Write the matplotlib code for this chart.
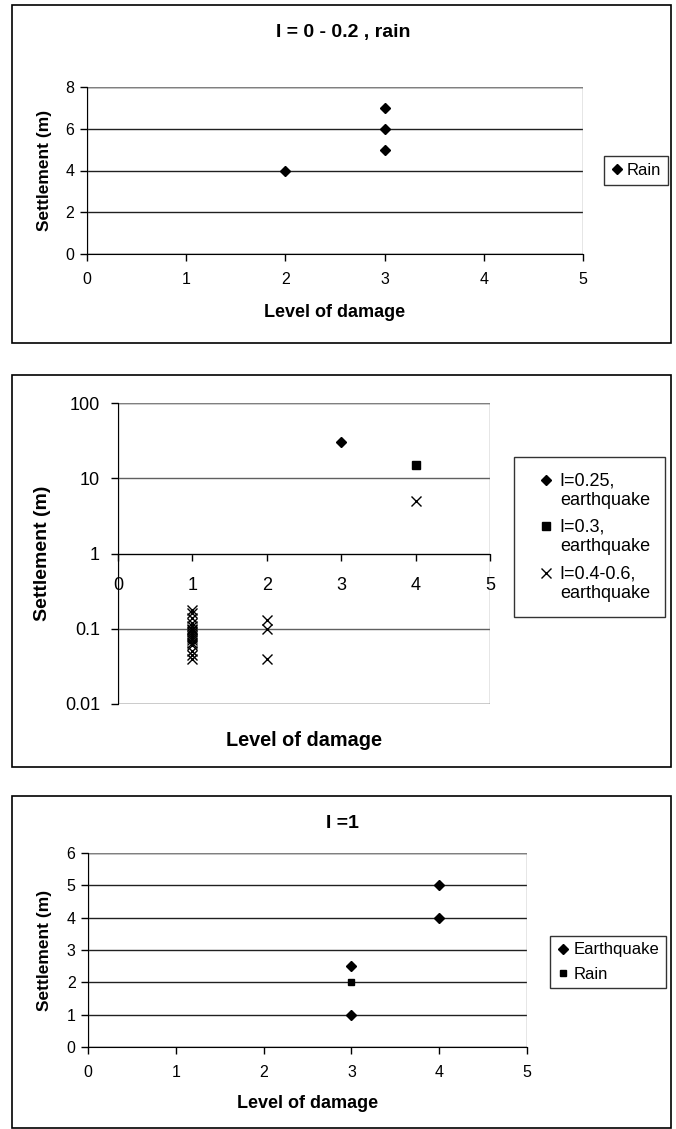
import matplotlib
matplotlib.use("Agg")
import matplotlib.pyplot as plt
from matplotlib.patches import Rectangle
from matplotlib.legend_handler import HandlerLine2D
from matplotlib.ticker import FixedLocator, FixedFormatter, NullLocator

plt.rcParams["font.family"] = ["Liberation Sans", "DejaVu Sans"]

W, H = 676, 1129

# --- data ---
# panel 1: I = 0 - 0.2, rain
p1_rain_x = [2, 3, 3, 3]
p1_rain_y = [4, 5, 6, 7]

# panel 2: earthquake, log scale
p2_i025_x = [3]
p2_i025_y = [30]
p2_i03_x = [4]
p2_i03_y = [15]
p2_i0406_x = [4, 1, 1, 1, 1, 1, 1, 1, 1, 1, 1, 1, 1, 1, 1, 1, 1, 1, 2, 2, 2]
p2_i0406_y = [5, 0.04, 0.045, 0.05, 0.06, 0.065, 0.07, 0.075, 0.08, 0.085, 0.09,
              0.095, 0.1, 0.11, 0.12, 0.14, 0.16, 0.18, 0.04, 0.1, 0.13]
p2_yticks = [0.01, 0.1, 1, 10, 100]
p2_ylabels = ["0.01", "0.1", "1", "10", "100"]

# panel 3: I = 1
p3_eq_x = [3, 3, 4, 4]
p3_eq_y = [1, 2.5, 4, 5]
p3_rain_x = [3]
p3_rain_y = [2]

fig = plt.figure(figsize=(W / 100, H / 100), dpi=100)


def box(x0, y0, x1, y1):
    """axes position from pixel coords (top-left origin)"""
    return [x0 / W, 1 - y1 / H, (x1 - x0) / W, (y1 - y0) / H]


def frame(x0, y0, x1, y1):
    fig.patches.append(Rectangle((x0 / W, 1 - y1 / H), (x1 - x0) / W, (y1 - y0) / H,
                                 transform=fig.transFigure, fill=False,
                                 edgecolor="black", lw=1.2))


def style(ax, grid_color="#202020", fs=11.5):
    for s in ("top", "right"):
        ax.spines[s].set_visible(False)
    ax.spines["left"].set_color("black")
    ax.spines["bottom"].set_color("black")
    ax.add_patch(Rectangle((0, 0), 1, 1, transform=ax.transAxes, fill=False,
                           edgecolor="#808080", lw=1, zorder=1))
    ax.tick_params(direction="out", length=5, width=1, labelsize=fs, pad=4)
    ax.tick_params(axis="x", pad=8)
    ax.grid(axis="y", color=grid_color, lw=1)
    ax.set_axisbelow(True)


class TopMarker(HandlerLine2D):
    # put the marker next to the first line of a two-line label
    def create_artists(self, legend, orig_handle, xdescent, ydescent, width,
                       height, fontsize, trans):
        arts = super().create_artists(legend, orig_handle, xdescent, ydescent,
                                      width, height, fontsize, trans)
        for a in arts:
            a.set_ydata([y + 0.6 * fontsize for y in a.get_ydata()])
        return arts


def legend(ax, cx, cy, fs=12, **kw):
    opts = dict(handlelength=0.75, handletextpad=0.22, borderpad=0.4,
                labelspacing=0.5)
    opts.update(kw)
    lg = ax.legend(loc="center", bbox_to_anchor=(cx / W, 1 - cy / H),
                   bbox_transform=fig.transFigure, frameon=True, fancybox=False,
                   edgecolor="black", fontsize=fs, **opts)
    lg.get_frame().set_linewidth(1)
    return lg


def labels(ax, fx, fy, xc, yc):
    ax.set_xlabel("Level of damage", fontsize=fx, fontweight="bold")
    ax.set_ylabel("Settlement (m)", fontsize=fy, fontweight="bold")
    ax.xaxis.set_label_coords(0.5, xc)
    ax.xaxis.label.set_va("center")
    ax.yaxis.set_label_coords(yc, 0.5)
    ax.yaxis.label.set_va("center")


# ---------- panel 1 ----------
frame(12, 5, 671, 343)
ax1 = fig.add_axes(box(87, 87, 583, 254))
style(ax1)
ax1.plot(p1_rain_x, p1_rain_y, "D", color="black", ms=5, label="Rain", clip_on=False)
ax1.set_xlim(0, 5)
ax1.set_ylim(0, 8)
ax1.set_xticks(range(6))
ax1.set_yticks([0, 2, 4, 6, 8])
labels(ax1, 13, 12.5, -0.35, -0.085)
fig.text(343 / W, 1 - 32 / H, "I = 0 - 0.2 , rain", ha="center", va="center",
         fontsize=14, fontweight="bold")
legend(ax1, 636, 170.5)

# ---------- panel 2 ----------
frame(12, 375, 671, 767)
ax2 = fig.add_axes(box(118, 403, 490, 704))
style(ax2, grid_color="#606060", fs=13)
ax2.set_yscale("log")
ax2.plot(p2_i025_x, p2_i025_y, "D", color="black", ms=5.5, label="I=0.25,\nearthquake")
ax2.plot(p2_i03_x, p2_i03_y, "s", color="black", ms=6, label="I=0.3,\nearthquake")
ax2.plot(p2_i0406_x, p2_i0406_y, "x", color="black", ms=7, mew=1,
         label="I=0.4-0.6,\nearthquake")
ax2.set_xlim(0, 5)
ax2.set_ylim(0.01, 100)
ax2.spines["bottom"].set_position(("data", 1))
ax2.set_xticks(range(6))
ax2.yaxis.set_major_locator(FixedLocator(p2_yticks))
ax2.yaxis.set_major_formatter(FixedFormatter(p2_ylabels))
ax2.yaxis.set_minor_locator(NullLocator())
ax2.tick_params(axis="x", pad=12)
ax2.tick_params(axis="y", pad=8)
labels(ax2, 14.3, 14, -0.12, -0.204)
legend(ax2, 589.5, 537, fs=13, handler_map={matplotlib.lines.Line2D: TopMarker()},
       handlelength=1.9, handletextpad=-0.2, labelspacing=0.55, borderpad=0.85)

# ---------- panel 3 ----------
frame(12, 796, 671, 1128)
ax3 = fig.add_axes(box(88, 853, 527, 1047))
style(ax3)
ax3.plot(p3_eq_x, p3_eq_y, "D", color="black", ms=5, label="Earthquake")
ax3.plot(p3_rain_x, p3_rain_y, "s", color="black", ms=5, label="Rain")
ax3.set_xlim(0, 5)
ax3.set_ylim(0, 6)
ax3.set_xticks(range(6))
ax3.set_yticks(range(7))
labels(ax3, 13, 12.5, -0.289, -0.098)
fig.text(342 / W, 1 - 823 / H, "I =1", ha="center", va="center",
         fontsize=14, fontweight="bold")
legend(ax3, 608, 962, labelspacing=0.55)

fig.savefig("out.png", dpi=100)
